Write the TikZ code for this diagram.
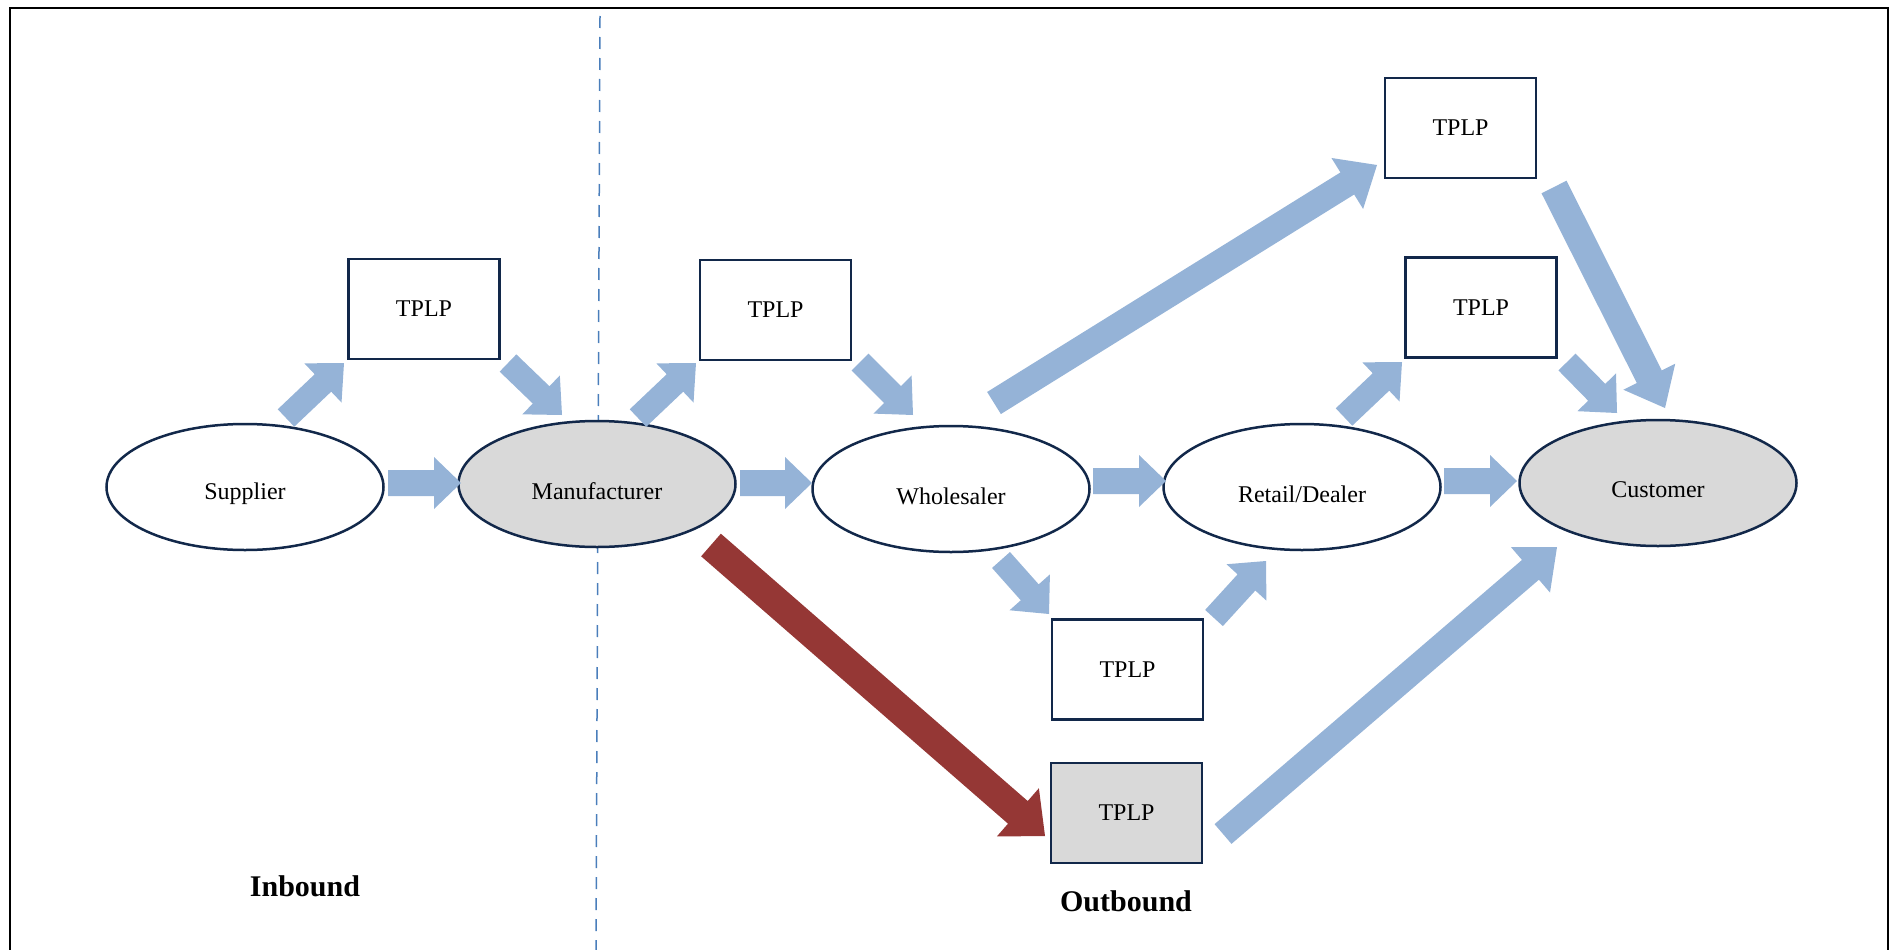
\documentclass[tikz,border=0pt]{standalone}
\usepackage{fontspec}
\setmainfont{Liberation Serif}
\usetikzlibrary{calc,shapes.geometric}
\definecolor{navy}{HTML}{12284A}
\definecolor{arrowblue}{HTML}{95B3D7}
\definecolor{arrowred}{HTML}{953735}
\definecolor{nodegray}{HTML}{D9D9D9}
\definecolor{dashblue}{HTML}{4A7EBB}
% text lowered inside the ellipses, box size kept
\newcommand\lowtext[1]{\raisebox{-7pt}[\height][\depth]{#1}}
% block arrow: #1 style, #2 tail coord, #3 tip coord, #4 half shaft, #5 half head, #6 head length
\newcommand\barrow[6]{%
  \coordinate (hb) at ($(#3)!#6!(#2)$);
  \fill[#1] ($(#2)!#4!90:(#3)$) -- ($(hb)!#4!90:(#3)$) -- ($(hb)!#5!90:(#3)$) -- (#3)
    -- ($(hb)!#5!-90:(#3)$) -- ($(hb)!#4!-90:(#3)$) -- ($(#2)!#4!-90:(#3)$) -- cycle;}
\begin{document}
\begin{tikzpicture}[x=1pt,y=-1pt,
  ell/.style={ellipse, draw=navy, line width=2.5pt, fill=white, minimum width=277pt,
    minimum height=126pt, inner sep=0pt, font=\fontsize{24}{28}\selectfont},
  grayell/.style={ell, fill=nodegray},
  tplp/.style={rectangle, draw=navy, line width=2.7pt, fill=white, minimum width=151pt,
    minimum height=100pt, inner sep=0pt, font=\fontsize{24}{28}\selectfont},
  graytplp/.style={tplp, fill=nodegray},
  label/.style={font=\fontsize{30}{34}\selectfont\bfseries},
  blue/.style={fill=arrowblue},
  red/.style={fill=arrowred}]
\useasboundingbox (0,0) rectangle (1892,950);
% frame
\draw[line width=2pt] (10,950) -- (10,8) -- (1888,8) -- (1888,950);
% dashed divider
\draw[dashblue, line width=1.5pt, dash pattern=on 12pt off 9pt] (600,16) -- (596,950);
% ellipses
\node[ell] (sup) at (245,487) {\lowtext{Supplier}};
\node[grayell] (man) at (597,484) {\lowtext{Manufacturer}};
\node[ell] (who) at (951,489) {\lowtext{Wholesaler}};
\node[ell] (ret) at (1302,487) {\lowtext{Retail/Dealer}};
\node[grayell] (cus) at (1658,483) {\lowtext{Customer}};
% TPLP boxes
\node[tplp] (t1) at (424,309) {TPLP};
\node[tplp] (t2) at (775.5,310) {TPLP};
\node[tplp] (t3) at (1460.5,128) {TPLP};
\node[tplp] (t4) at (1481,307.5) {TPLP};
\node[tplp] (t5) at (1127.5,669.5) {TPLP};
\node[graytplp] (t6) at (1126.5,813) {TPLP};
% labels
\node[label] (inb) at (305,886) {Inbound};
\node[label] (outb) at (1126,901) {Outbound};
% arrow end points
\coordinate (a1s) at (388,483);  \coordinate (a1e) at (461,483);
\coordinate (a2s) at (740,483);  \coordinate (a2e) at (812,483);
\coordinate (a3s) at (1093,481); \coordinate (a3e) at (1166,481);
\coordinate (a4s) at (1444,481); \coordinate (a4e) at (1517,481);
\coordinate (b1s) at (286,418);  \coordinate (b1e) at (344,363);
\coordinate (b2s) at (508,363);  \coordinate (b2e) at (562,415);
\coordinate (b3s) at (638,418);  \coordinate (b3e) at (696,363);
\coordinate (b4s) at (860,362);  \coordinate (b4e) at (913,415);
\coordinate (b5s) at (1001,560); \coordinate (b5e) at (1049,614);
\coordinate (b6s) at (1214,618); \coordinate (b6e) at (1266,561);
\coordinate (b7s) at (1344,417); \coordinate (b7e) at (1402,362);
\coordinate (b8s) at (1567,362); \coordinate (b8e) at (1617,413);
\coordinate (c1s) at (994,403);  \coordinate (c1e) at (1377,165);
\coordinate (c2s) at (1554,187); \coordinate (c2e) at (1665,408);
\coordinate (c3s) at (711,545);  \coordinate (c3e) at (1045,836);
\coordinate (c4s) at (1223,834); \coordinate (c4e) at (1557,547);
% horizontal arrows
\barrow{blue}{a1s}{a1e}{13pt}{26pt}{27pt}
\barrow{blue}{a2s}{a2e}{13pt}{26pt}{27pt}
\barrow{blue}{a3s}{a3e}{13pt}{26pt}{27pt}
\barrow{blue}{a4s}{a4e}{13pt}{26pt}{27pt}
% short diagonal arrows
\barrow{blue}{b1s}{b1e}{12pt}{27pt}{29pt}
\barrow{blue}{b2s}{b2e}{12pt}{27pt}{29pt}
\barrow{blue}{b3s}{b3e}{12pt}{27pt}{29pt}
\barrow{blue}{b4s}{b4e}{12pt}{27pt}{29pt}
\barrow{blue}{b5s}{b5e}{12pt}{27pt}{29pt}
\barrow{blue}{b6s}{b6e}{12pt}{27pt}{29pt}
\barrow{blue}{b7s}{b7e}{12pt}{27pt}{29pt}
\barrow{blue}{b8s}{b8e}{12pt}{27pt}{29pt}
% long arrows
\barrow{blue}{c1s}{c1e}{13pt}{30pt}{35pt}
\barrow{blue}{c2s}{c2e}{14pt}{29pt}{35pt}
\barrow{red}{c3s}{c3e}{15pt}{32pt}{36pt}
\barrow{blue}{c4s}{c4e}{13pt}{30pt}{35pt}
\end{tikzpicture}
\end{document}
